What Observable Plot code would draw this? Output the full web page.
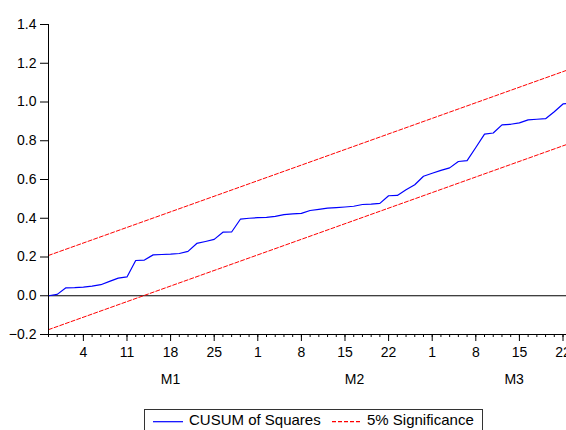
<!DOCTYPE html>
<html><head><meta charset="utf-8">
<script src="https://cdn.jsdelivr.net/npm/d3@7"></script>
<script src="https://cdn.jsdelivr.net/npm/@observablehq/plot@0.6"></script>
<style>
body{margin:0;background:#fff;width:566px;height:430px;overflow:hidden;position:relative;font-family:"Liberation Sans",Arial,sans-serif;}
#chart{position:absolute;left:0;top:0;}
#legend{position:absolute;left:144px;top:409px;width:339px;height:28px;border:1px solid #333;box-sizing:border-box;background:#fff;}
#legend svg{position:absolute;left:0;top:0;}
</style></head><body>
<div id="chart"></div>
<div id="legend"></div>
<script>
// CUSUM of Squares values, one per weekday observation
const cusum = [0.000,0.007,0.041,0.042,0.045,0.050,0.057,0.074,0.091,0.097,
  0.182,0.184,0.211,0.213,0.215,0.218,0.229,0.270,0.280,0.291,
  0.328,0.329,0.395,0.400,0.403,0.405,0.410,0.419,0.423,0.425,
  0.440,0.446,0.452,0.455,0.458,0.462,0.471,0.473,0.477,0.516,
  0.518,0.547,0.573,0.617,0.632,0.647,0.660,0.693,0.697,0.765,
  0.834,0.840,0.882,0.885,0.892,0.908,0.911,0.914,0.950,0.990,
  0.995,1.000];
// 5% significance bands (straight lines, endpoints)
const sigObs = [0, 61];
const sigUpper = [0.208, 1.189];
const sigLower = [-0.175, 0.806];
// axis ticks
const yTicks = [-0.2, 0.0, 0.2, 0.4, 0.6, 0.8, 1.0, 1.2, 1.4];
const dayTickObs = [4, 9, 14, 19, 24, 29, 34, 39, 44, 49, 54, 59];
const dayTickLabels = ["4","11","18","25","1","8","15","22","1","8","15","22"];
const months = ["M1", "M2", "M3"];
const monthObs = [14, 35.1, 53.4];
const minorTickObs = d3.range(0, 60);

const series = cusum.map((v, i) => ({i, v}));
const upper = sigObs.map((x, k) => ({x, y: sigUpper[k]}));
const lower = sigObs.map((x, k) => ({x, y: sigLower[k]}));

const font = "Liberation Sans, Arial, sans-serif";
const plot = Plot.plot({
  width: 566, height: 400,
  marginLeft: 48, marginRight: 0, marginTop: 24, marginBottom: 66,
  style: {fontFamily: font, fontSize: "14px", background: "#fff", color: "#000", overflow: "visible"},
  x: {domain: [0, 59.4], axis: null},
  y: {domain: [-0.2, 1.4], axis: null},
  marks: [
    Plot.ruleY([0], {stroke: "#000", strokeWidth: 1}),
    Plot.line(upper, {x: "x", y: "y", stroke: "#ff0000", strokeWidth: 1, strokeDasharray: "4,2", clip: true}),
    Plot.line(lower, {x: "x", y: "y", stroke: "#ff0000", strokeWidth: 1, strokeDasharray: "4,2", clip: true}),
    Plot.line(series, {x: "i", y: "v", stroke: "#0000ff", strokeWidth: 1.2, clip: true}),
    Plot.ruleX([0], {y1: -0.2, y2: 1.4, stroke: "#000"}),
    Plot.ruleY([-0.2], {stroke: "#000"}),
    Plot.axisY(yTicks, {anchor: "left", tickSize: 8, tickPadding: 4, fontSize: 14, tickFormat: d3.format(".1f")}),
    Plot.axisX(minorTickObs, {anchor: "bottom", tickSize: 3, tickFormat: () => ""}),
    Plot.axisX(dayTickObs, {anchor: "bottom", tickSize: 7, tickPadding: 6, fontSize: 14,
      tickFormat: d => dayTickLabels[dayTickObs.indexOf(d)]}),
    Plot.text(months, {x: (d, i) => monthObs[i], y: () => -0.2, dy: 45, text: d => d,
      fontSize: 14, fill: "#000", lineAnchor: "middle", textAnchor: "middle"})
  ]
});
document.getElementById("chart").appendChild(plot);

// legend
const legendItems = [
  {label: "CUSUM of Squares", color: "#0000ff", dash: null, x0: 8, x1: 38, tx: 44},
  {label: "5% Significance", color: "#ff0000", dash: "4,2", x0: 187, x1: 217, tx: 222}
];
const lg = d3.select("#legend").append("svg").attr("width", 337).attr("height", 26)
  .style("font-family", font).style("font-size", "15px");
legendItems.forEach(it => {
  lg.append("line").attr("x1", it.x0).attr("x2", it.x1).attr("y1", 11.7).attr("y2", 11.7)
    .attr("stroke", it.color).attr("stroke-width", 1.2).attr("stroke-dasharray", it.dash);
  lg.append("text").attr("x", it.tx).attr("y", 14.5).attr("fill", "#000").text(it.label);
});
</script></body></html>
